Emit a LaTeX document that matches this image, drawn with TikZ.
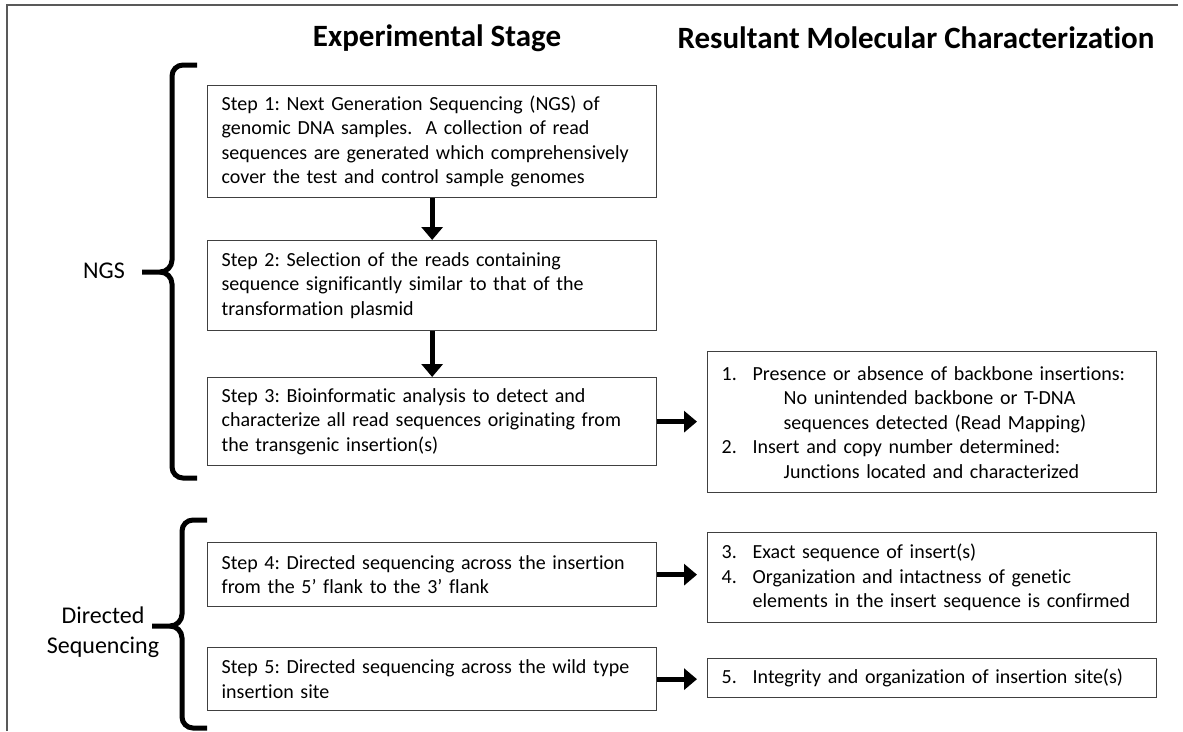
\documentclass[tikz,border=0pt]{standalone}
\usepackage{fontspec}
\setmainfont{Carlito}[Ligatures=NoCommon]
\usetikzlibrary{arrows.meta}
\frenchspacing
\begin{document}
\begin{tikzpicture}[x=1pt,y=-1pt,
  box/.style={draw=black!75, line width=1.3pt, anchor=north west, align=left,
    inner xsep=14pt, inner ysep=0pt, minimum width=449pt, text width=421pt,
    font=\fontsize{20}{24.5}\selectfont},
  flow/.style={line width=5pt, -{Triangle[length=13pt,width=21pt]}},
  bracepath/.style={line width=5pt},
  hdr/.style={font=\fontsize{31}{36}\selectfont\bfseries},
  side/.style={font=\fontsize{24}{30}\selectfont, align=center}]
\useasboundingbox (0,0) rectangle (1183,731);
\fill[white] (0,0) rectangle (1183,731);
\draw[black!65, line width=2pt] (7,731) -- (7,5) -- (1178,5);

\node[hdr] (h1) at (437,38) {Experimental Stage};
\node[hdr] (h2) at (916,38) {Resultant Molecular Characterization};

\node[box, minimum height=112pt] (s1) at (207,85) {Step 1: Next Generation Sequencing (NGS) of\\genomic DNA samples.\ \ A collection of read\\sequences are generated which comprehensively\\cover the test and control sample genomes};
\node[box, minimum height=90pt] (s2) at (207,240) {Step 2: Selection of the reads containing\\sequence significantly similar to\ that of the\\transformation plasmid};
\node[box, minimum height=88pt] (s3) at (207,377) {Step 3: Bioinformatic analysis to detect and\\characterize all read sequences originating from\\the transgenic insertion(s)};
\node[box, minimum height=64pt] (s4) at (207,542) {Step 4: Directed sequencing across the insertion\\from the 5’ flank to the 3’ flank};
\node[box, minimum height=63pt] (s5) at (207,647) {Step 5: Directed sequencing across the wild type\\insertion site};

\node[box, minimum height=141pt] (rA) at (707,351) {\makebox[31pt][l]{1.}Presence or absence of backbone insertions:\\\hspace*{62pt}No unintended backbone or T-DNA\\\hspace*{62pt}sequences detected (Read Mapping)\\\makebox[31pt][l]{2.}Insert and copy number determined:\\\hspace*{62pt}Junctions located and characterized};
\node[box, minimum height=90pt] (rB) at (707,532) {\makebox[31pt][l]{3.}Exact sequence of insert(s)\\\makebox[31pt][l]{4.}Organization and intactness of genetic\\\hspace*{31pt}elements in the insert sequence is confirmed};
\node[box, minimum height=39pt] (rC) at (707,658) {\makebox[31pt][l]{5.}Integrity and organization of insertion site(s)};

\draw[flow] (s1.south) -- (s2.north);
\draw[flow] (s2.south) -- (s3.north);
\draw[flow, shorten >=10pt] (s3.east) -- (rA.west |- s3.east);
\draw[flow, shorten >=10pt] (s4.east) -- (rB.west |- s4.east);
\draw[flow, shorten >=10pt] (s5.east) -- (rC.west |- s5.east);

\draw[bracepath] (197,65) -- (183,65) to[out=180,in=90] (172,76) -- (172,260) to[out=-90,in=0] (160,272) -- (142,272);
\draw[bracepath] (160,272) to[out=0,in=90] (172,284) -- (172,467) to[out=-90,in=180] (183,478) -- (197,478);
\draw[bracepath] (207,520) -- (193,520) to[out=180,in=90] (182,531) -- (182,614) to[out=-90,in=0] (170,626) -- (152,626);
\draw[bracepath] (170,626) to[out=0,in=90] (182,638) -- (182,717) to[out=-90,in=180] (193,728) -- (207,728);

\node[side] (ngs) at (104,271) {NGS};
\node[side] (dir) at (103,632) {Directed\\Sequencing};
\end{tikzpicture}
\end{document}
